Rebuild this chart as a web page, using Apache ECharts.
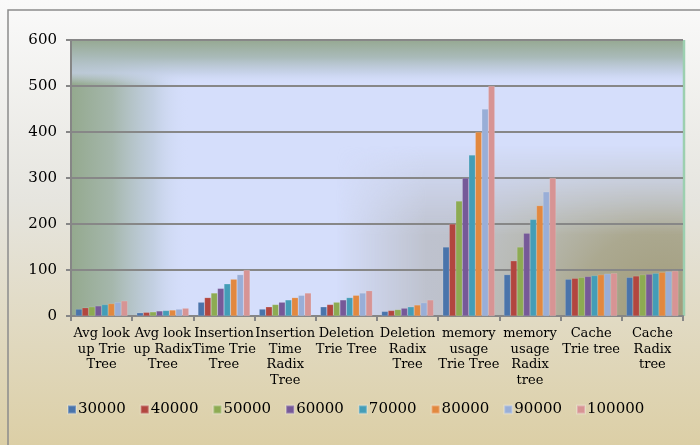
<!DOCTYPE html>
<html>
<head>
<meta charset="utf-8">
<script src="https://cdn.jsdelivr.net/npm/echarts@6/dist/echarts.min.js"></script>
<style>html,body{margin:0;padding:0;background:#fff}#c{width:700px;height:445px}</style>
</head>
<body>
<div id="c"></div>
<script>
const categories = ['Avg look\nup Trie\nTree', 'Avg look\nup Radix\nTree', 'Insertion\nTime Trie\nTree', 'Insertion\nTime\nRadix\nTree', 'Deletion\nTrie Tree', 'Deletion\nRadix\nTree', 'memory\nusage\nTrie Tree', 'memory\nusage\nRadix\ntree', 'Cache\nTrie tree', 'Cache\nRadix\ntree'];
const seriesNames = ['30000', '40000', '50000', '60000', '70000', '80000', '90000', '100000'];
const s30000 = [15, 7, 30, 15, 20, 10, 150, 90, 80, 84];
const s40000 = [18, 8, 40, 20, 25, 12, 200, 120, 82, 87];
const s50000 = [20, 9, 50, 25, 30, 14, 250, 150, 84, 90];
const s60000 = [22, 11, 60, 30, 35, 17, 300, 180, 86, 91];
const s70000 = [25, 12, 70, 35, 40, 20, 350, 210, 88, 93];
const s80000 = [27, 13, 80, 40, 45, 24, 400, 240, 90, 95];
const s90000 = [30, 15, 90, 45, 50, 29, 450, 270, 92, 97];
const s100000 = [33, 17, 100, 50, 55, 35, 500, 300, 93, 98];
const yTicks = [0, 100, 200, 300, 400, 500, 600];

const seriesValues = [s30000, s40000, s50000, s60000, s70000, s80000, s90000, s100000];
const colors = ['#4a74ab', '#b2463f', '#8dab52', '#765998', '#449db7', '#e2883f', '#99aed7', '#d79494'];

const G = {left: 71, top: 40, right: 683, bottom: 316};
const W = G.right - G.left, H = G.bottom - G.top;

// plot-area backdrop (decoration only)
function makeBackdrop() {
  const cv = document.createElement('canvas'); cv.width = W; cv.height = H;
  const c = cv.getContext('2d');
  c.fillStyle = '#d5defb'; c.fillRect(0, 0, W, H);
  // lower-right greyish / olive shading
  const off = document.createElement('canvas'); off.width = W; off.height = H;
  const o = off.getContext('2d');
  o.fillStyle = '#bec2ce'; o.fillRect(0, 0, W, H);
  const rg = o.createRadialGradient(W - 20, H, 0, W - 20, H, 250);
  rg.addColorStop(0, 'rgba(160,154,120,1)');
  rg.addColorStop(0.35, 'rgba(168,164,133,0.85)');
  rg.addColorStop(0.7, 'rgba(182,183,165,0.45)');
  rg.addColorStop(1, 'rgba(190,194,206,0)');
  o.fillStyle = rg; o.fillRect(0, 0, W, H);
  o.globalCompositeOperation = 'destination-in';
  const vg = o.createLinearGradient(0, 105, 0, 195);
  vg.addColorStop(0, 'rgba(0,0,0,0)'); vg.addColorStop(1, 'rgba(0,0,0,1)');
  o.fillStyle = vg; o.fillRect(0, 0, W, H);
  const hg = o.createLinearGradient(265, 0, 355, 0);
  hg.addColorStop(0, 'rgba(0,0,0,0)'); hg.addColorStop(1, 'rgba(0,0,0,1)');
  o.fillStyle = hg; o.fillRect(0, 0, W, H);
  c.drawImage(off, 0, 0);
  // left wall
  const lg = c.createLinearGradient(0, 0, 118, 0);
  lg.addColorStop(0, 'rgba(148,169,142,1)');
  lg.addColorStop(0.35, 'rgba(165,183,172,1)');
  lg.addColorStop(0.7, 'rgba(190,204,220,0.8)');
  lg.addColorStop(1, 'rgba(213,222,251,0)');
  c.fillStyle = lg; c.fillRect(0, 0, 118, H);
  // top strip
  const tg = c.createLinearGradient(0, 0, 0, 44);
  tg.addColorStop(0, 'rgba(150,169,146,1)');
  tg.addColorStop(0.4, 'rgba(170,187,186,1)');
  tg.addColorStop(0.75, 'rgba(196,208,230,0.8)');
  tg.addColorStop(1, 'rgba(213,222,251,0)');
  c.fillStyle = tg; c.fillRect(0, 0, W, 44);
  return cv;
}

const chart = echarts.init(document.getElementById('c'), null, {renderer: 'canvas'});
const font = '"DejaVu Serif", serif';
const option = {
  animation: false,
  backgroundColor: {type: 'linear', x: 0, y: 0, x2: 0, y2: 1, colorStops: [
    {offset: 0, color: '#fafafa'}, {offset: 0.45, color: '#e6e5df'}, {offset: 1, color: '#dccfa6'}]},
  color: colors,
  graphic: [
    {type: 'rect', z: -20, shape: {x: 8, y: 10, width: 720, height: 460},
      style: {fill: 'none', stroke: '#8c8c8c', lineWidth: 1.5}},
    {type: 'image', z: -19, style: {image: makeBackdrop(), x: G.left, y: G.top, width: W, height: H}},
    {type: 'line', z: -15, shape: {x1: G.left, y1: G.top, x2: G.right, y2: G.top},
      style: {stroke: '#6f9a7e', lineWidth: 2}},
    {type: 'line', z: -15, shape: {x1: G.right + 1, y1: G.top, x2: G.right + 1, y2: G.bottom},
      style: {stroke: '#9ccfb0', lineWidth: 2.5}}
  ],
  grid: {left: G.left, top: G.top, right: 700 - G.right, bottom: 445 - G.bottom, containLabel: false},
  legend: {
    data: seriesNames, left: 62, top: 397, icon: 'rect', itemWidth: 8, itemHeight: 8, itemGap: 14,
    textStyle: {fontFamily: font, fontSize: 15, color: '#000', padding: [0, 0, 0, -3]}
  },
  xAxis: {
    type: 'category', data: categories, boundaryGap: true,
    axisLine: {lineStyle: {color: '#868686', width: 2}},
    axisTick: {show: true, length: 5, alignWithLabel: false, lineStyle: {color: '#868686', width: 2}},
    axisLabel: {interval: 0, fontFamily: font, fontSize: 13, lineHeight: 15.5, color: '#000', margin: 10}
  },
  yAxis: {
    type: 'value', min: yTicks[0], max: yTicks[yTicks.length - 1], interval: 100,
    axisLine: {show: true, lineStyle: {color: '#868686', width: 2}},
    axisTick: {show: true, length: 5, lineStyle: {color: '#868686', width: 2}},
    axisLabel: {fontFamily: font, fontSize: 15, color: '#000', margin: 14},
    splitLine: {show: true, lineStyle: {color: '#878787', width: 2}}
  },
  series: seriesNames.map((n, i) => ({
    name: n, type: 'bar', data: seriesValues[i], barGap: '0%', barCategoryGap: '15%',
    itemStyle: {color: colors[i], borderColor: 'rgba(255,255,255,0.25)', borderWidth: 0.5}
  }))
};
chart.setOption(option);
</script>
</body>
</html>
